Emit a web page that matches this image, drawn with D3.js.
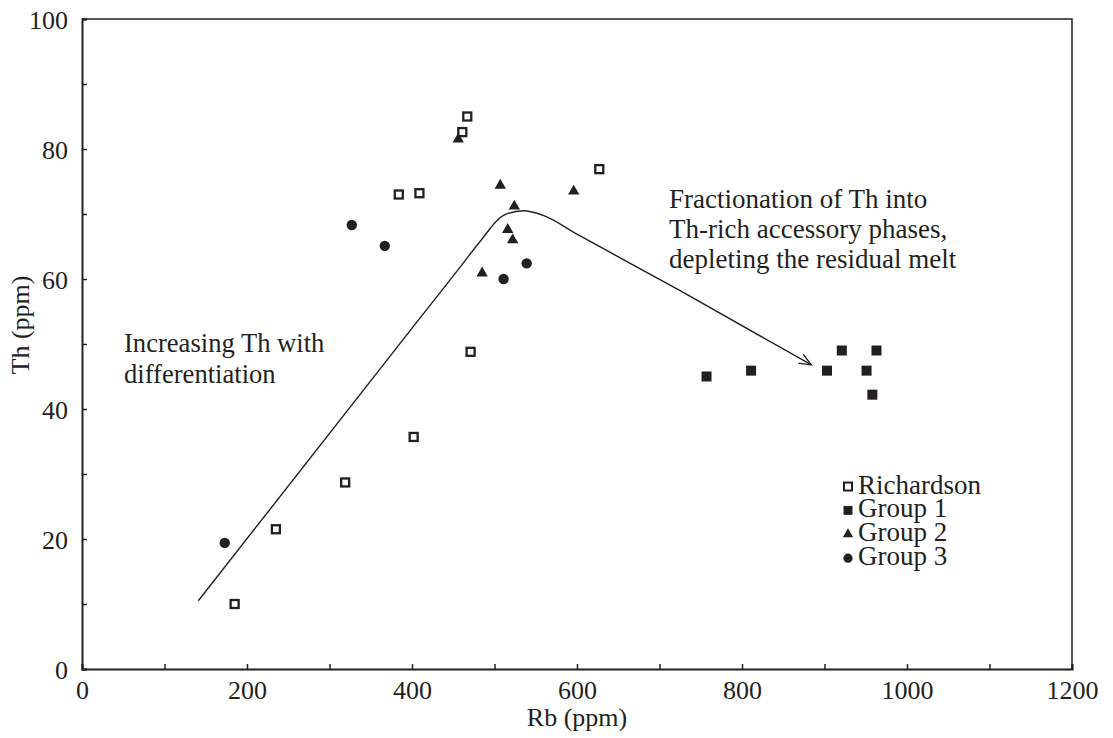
<!DOCTYPE html>
<html>
<head>
<meta charset="utf-8">
<script src="https://cdn.jsdelivr.net/npm/d3@7"></script>
<style>
  body { margin: 0; background: #fff; }
  text { font-family: "Liberation Serif", "Times New Roman", serif; fill: #231f20; }
</style>
</head>
<body>
<div id="chart"></div>
<script>
//values (Rb ppm, Th ppm)
const richardsonRb = [185, 235, 319, 402, 471, 384, 409, 461, 467, 627]
const richardsonTh = [10.0, 21.5, 28.7, 35.7, 48.8, 73.0, 73.2, 82.6, 85.0, 76.9]

const group1Rb = [757, 811, 903, 921, 951, 963, 958]
const group1Th = [45.0, 45.9, 45.9, 49.0, 45.9, 49.0, 42.2]

const group2Rb = [456, 507, 596, 524, 516, 522, 485]
const group2Th = [81.5, 74.4, 73.5, 71.2, 67.6, 66.0, 60.9]

const group3Rb = [173, 327, 367, 511, 539]
const group3Th = [19.4, 68.3, 65.1, 60.0, 62.4]

//hand drawn trend curve
const trendRb = [141, 406, 460, 482, 511, 535, 559, 600, 725, 884]
const trendTh = [10.5, 53.4, 62.1, 65.7, 69.8, 70.5, 69.8, 66.9, 58.2, 46.8]

//ticks
const xTicks = [0, 200, 400, 600, 800, 1000, 1200]
const xMinorTicks = [0, 100, 200, 300, 400, 500, 600, 700, 800, 900, 1000, 1100, 1200]
const yTicks = [0, 20, 40, 60, 80, 100]
const yMinorTicks = [0, 10, 20, 30, 40, 50, 60, 70, 80, 90, 100]

const legendLabels = ["Richardson", "Group 1", "Group 2", "Group 3"]
const noteLeft = ["Increasing Th with", "differentiation"]
const noteRight = ["Fractionation of Th into", "Th-rich accessory phases,", "depleting the residual melt"]

const width = 1113
const height = 738
const ink = "#231f20"
const fontSize = 26

const xScale = d3.scaleLinear().domain([0, 1200]).range([82, 1072])
const yScale = d3.scaleLinear().domain([0, 100]).range([669, 19])

const svg = d3.select("#chart")
    .append("svg")
    .attr("width", width)
    .attr("height", height)

//frame (top and right)
svg.append("path")
    .attr("d", "M" + xScale(0) + "," + yScale(100) + "H" + xScale(1200) + "V" + yScale(0))
    .attr("fill", "none")
    .attr("stroke", ink)
    .attr("stroke-width", 1.5)

//x axis: minor ticks every 100, labels every 200
const xAxis = d3.axisBottom(xScale)
    .tickValues(xMinorTicks)
    .tickSize(-5)
    .tickPadding(11.5)
    .tickFormat(d => xTicks.includes(d) ? d : "")

svg.append("g")
    .attr("transform", "translate(0," + yScale(0) + ")")
    .call(xAxis)
    .call(g => g.select(".domain").attr("stroke", ink).attr("stroke-width", 2))
    .call(g => g.selectAll(".tick line").attr("stroke", ink).attr("stroke-width", 1.5))
    .call(g => g.selectAll("text").attr("font-size", fontSize).attr("font-family", null).attr("fill", ink))

const yAxis = d3.axisLeft(yScale)
    .tickValues(yMinorTicks)
    .tickSize(-5)
    .tickPadding(14)
    .tickFormat(d => yTicks.includes(d) ? d : "")

svg.append("g")
    .attr("transform", "translate(" + xScale(0) + ",0)")
    .call(yAxis)
    .call(g => g.select(".domain").attr("stroke", ink).attr("stroke-width", 2))
    .call(g => g.selectAll(".tick line").attr("stroke", ink).attr("stroke-width", 1.5))
    .call(g => g.selectAll("text").attr("font-size", fontSize).attr("font-family", null).attr("fill", ink).attr("dy", "0.35em"))

//axis titles
svg.append("text")
    .text("Rb (ppm)")
    .attr("x", (xScale(0) + xScale(1200)) / 2)
    .attr("y", 726)
    .attr("text-anchor", "middle")
    .attr("font-size", fontSize)

svg.append("text")
    .text("Th (ppm)")
    .attr("transform", "translate(29,325) rotate(-90)")
    .attr("text-anchor", "middle")
    .attr("font-size", fontSize)

//open arrow head
svg.append("defs").append("marker")
    .attr("id", "arrow")
    .attr("markerUnits", "userSpaceOnUse")
    .attr("markerWidth", 30)
    .attr("markerHeight", 30)
    .attr("refX", 15)
    .attr("refY", 15)
    .attr("orient", "auto")
    .append("path")
    .attr("d", "M3,10 L15,15 L3,20")
    .attr("fill", "none")
    .attr("stroke", ink)
    .attr("stroke-width", 1.3)

const trendLine = d3.line()
    .x(i => xScale(trendRb[i]))
    .y(i => yScale(trendTh[i]))
    .curve(d3.curveMonotoneX)

svg.append("path")
    .attr("d", trendLine(d3.range(trendRb.length)))
    .attr("fill", "none")
    .attr("stroke", ink)
    .attr("stroke-width", 1.4)
    .attr("marker-end", "url(#arrow)")

//points
const symbols = {
    filledSquare: d3.symbol().type(d3.symbolSquare).size(100),
    triangle: d3.symbol().type(d3.symbolTriangle).size(56),
    circle: d3.symbol().type(d3.symbolCircle).size(85)
}

svg.append("g")
    .selectAll("rect")
    .data(d3.range(richardsonRb.length))
    .join("rect")
    .attr("x", i => xScale(richardsonRb[i]) - 4)
    .attr("y", i => yScale(richardsonTh[i]) - 4)
    .attr("width", 8)
    .attr("height", 8)
    .attr("fill", "#fff")
    .attr("stroke", ink)
    .attr("stroke-width", 2.3)

function drawGroup(rb, th, sym) {
    svg.append("g")
        .selectAll("path")
        .data(d3.range(rb.length))
        .join("path")
        .attr("transform", i => "translate(" + xScale(rb[i]) + "," + yScale(th[i]) + ")")
        .attr("d", sym)
        .attr("fill", ink)
}
drawGroup(group1Rb, group1Th, symbols.filledSquare)
drawGroup(group2Rb, group2Th, symbols.triangle)
drawGroup(group3Rb, group3Th, symbols.circle)

//annotations
svg.append("text")
    .attr("font-size", 26.6)
    .selectAll("tspan")
    .data(noteLeft)
    .join("tspan")
    .attr("x", 124)
    .attr("y", (d, i) => 352 + i * 31)
    .text(d => d)

svg.append("text")
    .attr("font-size", 27)
    .selectAll("tspan")
    .data(noteRight)
    .join("tspan")
    .attr("x", 669)
    .attr("y", (d, i) => 208 + i * 30)
    .text(d => d)

//legend
const legend = svg.append("g").attr("transform", "translate(848,486.5)")
const legendSymbols = [null, d3.symbol().type(d3.symbolSquare).size(80), d3.symbol().type(d3.symbolTriangle).size(46), d3.symbol().type(d3.symbolCircle).size(66)]

legendLabels.forEach((label, i) => {
    const row = legend.append("g").attr("transform", "translate(0," + i * 23.9 + ")")
    if (i === 0) {
        row.append("rect")
            .attr("x", -4).attr("y", -4)
            .attr("width", 8).attr("height", 8)
            .attr("fill", "#fff")
            .attr("stroke", ink)
            .attr("stroke-width", 2)
    } else {
        row.append("path").attr("d", legendSymbols[i]).attr("fill", ink)
    }
    row.append("text")
        .text(label)
        .attr("x", 10)
        .attr("y", 7)
        .attr("font-size", 27)
})
</script>
</body>
</html>
